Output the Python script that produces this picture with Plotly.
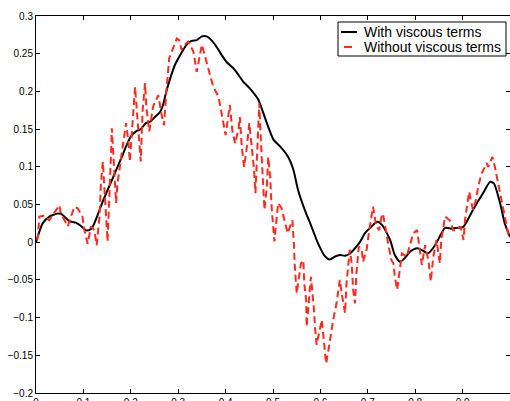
import plotly.graph_objects as go

# With viscous terms (smooth black)
bx = [0, 0.014, 0.028, 0.046, 0.053, 0.063, 0.070, 0.084, 0.095, 0.105, 0.112, 0.120, 0.130, 0.141,
      0.151, 0.162, 0.172, 0.183, 0.190, 0.200, 0.211, 0.221, 0.232, 0.241, 0.251, 0.262, 0.268, 0.275,
      0.283, 0.293, 0.304, 0.318, 0.328, 0.339, 0.350, 0.360, 0.370, 0.381, 0.392, 0.402, 0.416, 0.427,
      0.437, 0.451, 0.469, 0.487, 0.501, 0.515, 0.532, 0.543, 0.553, 0.567, 0.581, 0.595, 0.610, 0.620,
      0.631, 0.641, 0.652, 0.662, 0.673, 0.684, 0.694, 0.705, 0.720, 0.730, 0.747, 0.757, 0.768, 0.778,
      0.790, 0.804, 0.816, 0.827, 0.842, 0.863, 0.876, 0.888, 0.901, 0.922, 0.943, 0.958, 0.966, 0.979,
      0.989, 1.0]
by = [0.0, 0.025, 0.034, 0.038, 0.0375, 0.032, 0.028, 0.026, 0.0215, 0.016, 0.016, 0.021, 0.036, 0.054,
      0.069, 0.085, 0.100, 0.116, 0.127, 0.140, 0.147, 0.150, 0.158, 0.160, 0.166, 0.173, 0.182, 0.200,
      0.217, 0.235, 0.248, 0.262, 0.267, 0.268, 0.273, 0.273, 0.268, 0.259, 0.248, 0.239, 0.231, 0.222,
      0.213, 0.204, 0.189, 0.158, 0.136, 0.127, 0.113, 0.096, 0.069, 0.043, 0.021, -0.0015, -0.019, -0.023,
      -0.019, -0.017, -0.018, -0.015, -0.008, 0.0007, 0.012, 0.019, 0.027, 0.023, 0.003, -0.017, -0.026, -0.021,
      -0.012, -0.008, -0.011, -0.015, -0.004, 0.019, 0.018, 0.019, 0.020, 0.043, 0.065, 0.080, 0.078, 0.052,
      0.025, 0.007]

# Without viscous terms (noisy red dashed)
rx = [0.000, 0.004, 0.007, 0.0175, 0.028, 0.049, 0.052, 0.067, 0.070, 0.081, 0.088, 0.098, 0.102, 0.109,
      0.116, 0.123, 0.128, 0.134, 0.137, 0.141, 0.151, 0.155, 0.158, 0.160, 0.169, 0.172, 0.179, 0.185,
      0.190, 0.195, 0.198, 0.204, 0.209, 0.214, 0.218, 0.221, 0.225, 0.230, 0.233, 0.239, 0.247, 0.258,
      0.265, 0.270, 0.275, 0.281, 0.297, 0.302, 0.307, 0.314, 0.321, 0.332, 0.339, 0.346, 0.350, 0.367,
      0.374, 0.385, 0.395, 0.400, 0.409, 0.414, 0.420, 0.427, 0.430, 0.434, 0.439, 0.444, 0.450, 0.455,
      0.460, 0.463, 0.466, 0.469, 0.471, 0.475, 0.478, 0.482, 0.487, 0.490, 0.494, 0.497, 0.501, 0.503,
      0.508, 0.511, 0.518, 0.525, 0.531, 0.536, 0.541, 0.544, 0.546, 0.550, 0.559, 0.564, 0.566, 0.570,
      0.571, 0.580, 0.583, 0.586, 0.589, 0.592, 0.603, 0.606, 0.610, 0.612, 0.617, 0.622, 0.627, 0.634,
      0.638, 0.641, 0.645, 0.648, 0.652, 0.655, 0.659, 0.662, 0.666, 0.669, 0.673, 0.676, 0.681, 0.687,
      0.690, 0.698, 0.701, 0.708, 0.711, 0.718, 0.724, 0.729, 0.732, 0.743, 0.750, 0.754, 0.757, 0.762,
      0.766, 0.770, 0.772, 0.782, 0.789, 0.796, 0.804, 0.814, 0.821, 0.828, 0.833, 0.838, 0.845, 0.852,
      0.855, 0.863, 0.873, 0.880, 0.887, 0.895, 0.902, 0.905, 0.909, 0.914, 0.917, 0.922, 0.928, 0.933,
      0.940, 0.951, 0.954, 0.963, 0.968, 0.975, 0.984, 0.989, 0.996, 1.0]
ry = [0.003, 0.007, 0.034, 0.035, 0.029, 0.049, 0.039, 0.021, 0.027, 0.047, 0.045, 0.034, 0.016, -0.002,
      0.021, 0.016, -0.004, 0.034, 0.078, 0.107, 0.001, 0.056, 0.113, 0.151, 0.052, 0.078, 0.113, 0.136,
      0.158, 0.133, 0.107, 0.155, 0.206, 0.164, 0.129, 0.107, 0.175, 0.211, 0.178, 0.147, 0.180, 0.195,
      0.169, 0.155, 0.200, 0.244, 0.270, 0.268, 0.255, 0.262, 0.266, 0.253, 0.226, 0.250, 0.262, 0.222,
      0.206, 0.193, 0.160, 0.142, 0.182, 0.149, 0.131, 0.149, 0.166, 0.127, 0.100, 0.122, 0.158, 0.127,
      0.096, 0.065, 0.118, 0.149, 0.184, 0.127, 0.096, 0.043, 0.074, 0.113, 0.087, 0.047, 0.016, 0.001,
      0.034, 0.052, 0.045, 0.029, 0.012, 0.021, 0.029, -0.002, -0.032, -0.068, -0.028, -0.024, -0.055, -0.077,
      -0.112, -0.046, -0.063, -0.086, -0.116, -0.136, -0.103, -0.125, -0.152, -0.161, -0.143, -0.121, -0.103, -0.081,
      -0.063, -0.050, -0.068, -0.081, -0.094, -0.055, -0.028, -0.010, -0.028, -0.063, -0.081, -0.041, -0.006, -0.010,
      -0.026, -0.008, 0.007, 0.032, 0.047, 0.021, 0.016, 0.034, 0.038, -0.002, -0.024, -0.028, -0.046, -0.063,
      -0.046, -0.028, -0.015, -0.019, -0.004, 0.012, 0.016, -0.030, -0.004, -0.025, -0.052, -0.020, 0.003, -0.028,
      0.003, 0.034, 0.029, 0.016, 0.016, 0.021, 0.003, 0.029, 0.047, 0.067, 0.056, 0.043, 0.056, 0.074,
      0.091, 0.105, 0.100, 0.113, 0.100, 0.078, 0.047, 0.029, 0.012, 0.005]

series_names = ["With viscous terms", "Without viscous terms"]
yticks = [-0.2, -0.15, -0.1, -0.05, 0, 0.05, 0.1, 0.15, 0.2, 0.25, 0.3]
ytext = ["\u22120.2", "\u22120.15", "\u22120.1", "\u22120.05", "0", "0.05", "0.1", "0.15", "0.2", "0.25", "0.3"]
xticks = [0, 0.1, 0.2, 0.3, 0.4, 0.5, 0.6, 0.7, 0.8, 0.9, 1]
xtext = ["0", "0.1", "0.2", "0.3", "0.4", "0.5", "0.6", "0.7", "0.8", "0.9", "1"]

BLACK = "black"
RED = "#ff2a1f"
FONT = "Liberation Sans, Arial, sans-serif"

fig = go.Figure()
fig.add_trace(go.Scatter(x=bx, y=by, mode="lines", name=series_names[0], showlegend=False,
                         line=dict(color=BLACK, width=2, shape="spline", smoothing=0.6)))
fig.add_trace(go.Scatter(x=rx, y=ry, mode="lines", name=series_names[1], showlegend=False,
                         line=dict(color=RED, width=2, dash="7px,4px")))

axis_common = dict(showline=True, linecolor="black", linewidth=1, mirror="ticks", automargin=False,
                   ticks="inside", ticklen=4, tickcolor="black", showgrid=False, zeroline=False,
                   tickfont=dict(family=FONT, size=10, color="black"))
fig.update_xaxes(range=[0, 1], tickvals=xticks, ticktext=xtext, **axis_common)
fig.update_yaxes(range=[-0.2, 0.3], tickvals=yticks, ticktext=ytext, **axis_common)

# Legend box (MATLAB style), in paper coordinates of the plot area
W, H, L, T = 474.0, 377.0, 36.0, 16.0
def px(x):
    return (x - L) / W
def py(y):
    return 1 - (y - T) / H

shapes = [
    dict(type="rect", xref="paper", yref="paper", x0=px(338), x1=px(506), y0=py(56), y1=py(22),
         line=dict(color="black", width=1), fillcolor="white", layer="above"),
    dict(type="line", xref="paper", yref="paper", x0=px(341), x1=px(357), y0=py(32), y1=py(32),
         line=dict(color=BLACK, width=2), layer="above"),
    dict(type="line", xref="paper", yref="paper", x0=px(344), x1=px(352), y0=py(47), y1=py(47),
         line=dict(color=RED, width=2), layer="above"),
]
annotations = [
    dict(xref="paper", yref="paper", x=px(362), y=py(32), text=series_names[0], showarrow=False,
         xanchor="left", yanchor="middle", font=dict(family=FONT, size=14, color="black")),
    dict(xref="paper", yref="paper", x=px(362), y=py(47), text=series_names[1], showarrow=False,
         xanchor="left", yanchor="middle", font=dict(family=FONT, size=14, color="black")),
]

fig.update_layout(
    width=510, height=401,
    margin=dict(l=36, r=0, t=16, b=8),
    plot_bgcolor="white", paper_bgcolor="white",
    showlegend=False,
    shapes=shapes, annotations=annotations,
)
fig.write_html("out.html")
